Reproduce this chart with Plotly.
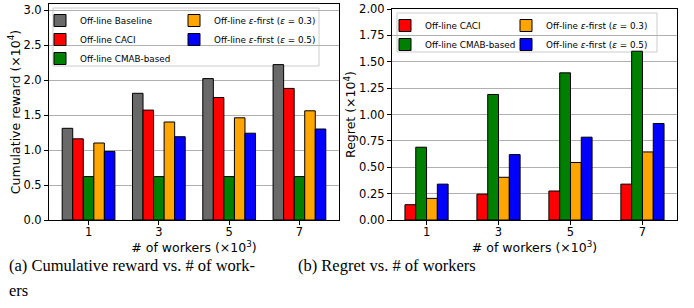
import plotly.graph_objects as go

# ---------------- data ----------------
workers = [1, 3, 5, 7]
tick_labels = ["1", "3", "5", "7"]

reward_baseline = [1.31, 1.81, 2.02, 2.22]
reward_caci = [1.16, 1.57, 1.75, 1.88]
reward_cmab = [0.62, 0.62, 0.62, 0.62]
reward_eps03 = [1.10, 1.40, 1.46, 1.56]
reward_eps05 = [0.98, 1.19, 1.24, 1.30]

regret_caci = [0.145, 0.245, 0.275, 0.34]
regret_cmab = [0.69, 1.19, 1.395, 1.60]
regret_eps03 = [0.205, 0.405, 0.545, 0.645]
regret_eps05 = [0.34, 0.62, 0.785, 0.915]

reward_ticks = [0.0, 0.5, 1.0, 1.5, 2.0, 2.5, 3.0]
regret_ticks = [0.0, 0.25, 0.5, 0.75, 1.0, 1.25, 1.5, 1.75, 2.0]

# ---------------- styling ----------------
W, H = 694, 308
FONT = "DejaVu Sans"
BAR_W = 0.3
C_BASE = "#696969"
C_CACI = "#ff0000"
C_CMAB = "#008000"
C_E03 = "#ffa500"
C_E05 = "#0000ff"

N_BASE = "Off-line Baseline"
N_CACI = "Off-line CACI"
N_CMAB = "Off-line CMAB-based"
N_E03 = "Off-line <i>ε</i>-first (<i>ε</i> = 0.3)"
N_E05 = "Off-line <i>ε</i>-first (<i>ε</i> = 0.5)"


def px_x(p):
    return p / W


def px_y(p):
    return 1 - p / H


fig = go.Figure()


def add_bar(vals, name, color, offset, xa, ya, leg):
    fig.add_trace(go.Bar(
        x=workers, y=vals, name=name, width=BAR_W, offset=offset,
        marker=dict(color=color, line=dict(color="black", width=1)),
        xaxis=xa, yaxis=ya, legend=leg,
    ))


# left panel: 5 bars per group
left_series = [
    (reward_baseline, N_BASE, C_BASE, "legend"),
    (reward_caci, N_CACI, C_CACI, "legend"),
    (reward_cmab, N_CMAB, C_CMAB, "legend"),
    (reward_eps03, N_E03, C_E03, "legend2"),
    (reward_eps05, N_E05, C_E05, "legend2"),
]
for i, (v, n, c, lg) in enumerate(left_series):
    add_bar(v, n, c, -0.75 + i * BAR_W, "x", "y", lg)

# right panel: 4 bars per group
right_series = [
    (regret_caci, N_CACI, C_CACI, "legend3"),
    (regret_cmab, N_CMAB, C_CMAB, "legend3"),
    (regret_eps03, N_E03, C_E03, "legend4"),
    (regret_eps05, N_E05, C_E05, "legend4"),
]
for i, (v, n, c, lg) in enumerate(right_series):
    add_bar(v, n, c, -0.6 + i * BAR_W, "x2", "y2", lg)

axis_common = dict(
    showline=True, linecolor="black", linewidth=1, mirror=True,
    ticks="outside", ticklen=4, tickcolor="black", tickwidth=1,
    tickfont=dict(family=FONT, size=11.5, color="black"),
    zeroline=False, automargin=False,
)

xtitle = dict(text="# of workers (×10<sup>3</sup>)",
              font=dict(family=FONT, size=12.5, color="black"), standoff=1)

fig.update_layout(
    width=W, height=H,
    margin=dict(l=0, r=0, t=0, b=0, autoexpand=False),
    paper_bgcolor="white", plot_bgcolor="white",
    barmode="overlay",
    font=dict(family=FONT, color="black"),
    xaxis=dict(domain=[px_x(49), px_x(339)], anchor="y", range=[-0.125, 8.125],
               tickvals=workers, ticktext=tick_labels, showgrid=False,
               ticklabelstandoff=-3, title=xtitle, **axis_common),
    yaxis=dict(domain=[px_y(220), px_y(4)], anchor="x", range=[0, 3.086],
               tickvals=reward_ticks, tickformat=".1f",
               showgrid=True, gridcolor="#b0b0b0", gridwidth=1,
               title=dict(text="Cumulative reward (×10<sup>4</sup>)",
                          font=dict(family=FONT, size=12.5, color="black"), standoff=0),
               **axis_common),
    xaxis2=dict(domain=[px_x(392), px_x(677)], anchor="y2", range=[0.04, 7.96],
                tickvals=workers, ticktext=tick_labels, showgrid=False,
                ticklabelstandoff=-3, title=xtitle, **axis_common),
    yaxis2=dict(domain=[px_y(220), px_y(9)], anchor="x2", range=[0, 2.0],
                tickvals=regret_ticks, tickformat=".2f",
                showgrid=True, gridcolor="#b0b0b0", gridwidth=1,
                title=dict(text="Regret (×10<sup>4</sup>)",
                           font=dict(family=FONT, size=12.5, color="black"), standoff=0),
                **axis_common),
)

leg_common = dict(xanchor="left", yanchor="top", bgcolor="rgba(0,0,0,0)",
                  borderwidth=0, font=dict(family=FONT, size=8.8, color="black"),
                  tracegroupgap=0, traceorder="normal")

fig.update_layout(
    legend=dict(x=px_x(40), y=px_y(6), **leg_common),
    legend2=dict(x=px_x(174), y=px_y(6), **leg_common),
    legend3=dict(x=px_x(385), y=px_y(11), **leg_common),
    legend4=dict(x=px_x(506), y=px_y(11), **leg_common),
)

# legend frames
fig.add_shape(type="rect", xref="paper", yref="paper",
              x0=px_x(53), x1=px_x(319), y0=px_y(66), y1=px_y(8),
              fillcolor="rgba(255,255,255,0.8)", line=dict(color="#cccccc", width=1),
              layer="below")
fig.add_shape(type="rect", xref="paper", yref="paper",
              x0=px_x(397), x1=px_x(657), y0=px_y(52), y1=px_y(13),
              fillcolor="rgba(255,255,255,0.8)", line=dict(color="#cccccc", width=1),
              layer="below")

# captions
cap_font = dict(family="Liberation Serif", size=16.5, color="black")
fig.add_annotation(text="(a) Cumulative reward vs. # of work-", xref="paper", yref="paper",
                   x=px_x(7), y=px_y(265), xanchor="left", yanchor="middle",
                   showarrow=False, font=cap_font)
fig.add_annotation(text="ers", xref="paper", yref="paper",
                   x=px_x(7), y=px_y(290), xanchor="left", yanchor="middle",
                   showarrow=False, font=cap_font)
fig.add_annotation(text="(b) Regret vs. # of workers", xref="paper", yref="paper",
                   x=px_x(296), y=px_y(265), xanchor="left", yanchor="middle",
                   showarrow=False, font=cap_font)

fig.write_html("out.html", config={"displayModeBar": False},
               post_script="document.body.style.margin='0px';document.body.style.overflow='hidden';")
